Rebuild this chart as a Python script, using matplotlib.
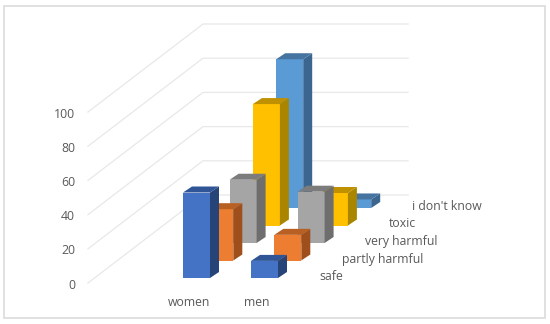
import matplotlib
matplotlib.use("Agg")
import matplotlib.pyplot as plt
from matplotlib.patches import Polygon, Rectangle

plt.rcParams['font.family'] = ['Open Sans', 'DejaVu Sans']

genders = ["women", "men"]
answers = ["safe", "partly harmful", "very harmful", "toxic", "i don't know"]
women = [50, 30, 37, 71, 87]
men = [10, 15, 30, 19, 5]
y_ticks = [0, 20, 40, 60, 80, 100]

front = ["#4472C4", "#ED7D31", "#A5A5A5", "#FFC000", "#5B9BD5"]
top = ["#2F5597", "#B85F24", "#7C7C7C", "#BF9000", "#44749F"]
side = ["#264478", "#9E4F1B", "#6E6E6E", "#A98500", "#3C6690"]
txt = "#595959"
grid = "#E8E8E8"

# pixels per unit, y axis in chart values, x in pixels
sy = 1.71
y0 = 283
row_dx = 23.3
row_dy = 17.5 / sy
bar_w = 27
side_dx = 9
side_dy = 6 / sy
inset = 5 / sy  # first row sits a little behind the floor edge
col_x = [183, 251]

fig = plt.figure(figsize=(5.5, 3.24), dpi=100)
ax = fig.add_axes([0, 0, 1, 1])
ax.set_xlim(0, 550)
ax.set_ylim(-(324 - y0) / sy, y0 / sy)
ax.axis("off")


def py(p):
    return (y0 - p) / sy


# outer frame
ax.add_patch(Rectangle((3.5, py(318)), 541.5, py(6) - py(318), fill=False, ec="#DCDCDC", lw=1.2, zorder=0))

# walls
for v in y_ticks:
    ax.plot([88, 203, 408], [v, v + 88 / sy, v + 88 / sy], color=grid, lw=0.9, zorder=0)
    ax.text(75, v - 1.2, str(v), ha="right", va="center", color=txt, fontsize=8.8)


def bar(x, base, val, i):
    h = base + val
    ax.add_patch(Polygon([(x, base), (x + bar_w, base), (x + bar_w, h), (x, h)], fc=front[i], ec="none"))
    ax.add_patch(Polygon([(x + bar_w, base), (x + bar_w + side_dx, base + side_dy),
                          (x + bar_w + side_dx, h + side_dy), (x + bar_w, h)], fc=side[i], ec="none"))
    ax.add_patch(Polygon([(x, h), (x + bar_w, h), (x + bar_w + side_dx, h + side_dy),
                          (x + side_dx, h + side_dy)], fc=top[i], ec="none"))


# back rows first so the front ones cover them
for i in range(len(answers) - 1, -1, -1):
    for c, vals in enumerate([women, men]):
        bar(col_x[c] + i * row_dx, inset + i * row_dy, vals[i], i)

for c, g in enumerate(genders):
    ax.text(col_x[c] + 6, py(303), g, ha="center", va="center", color=txt, fontsize=8.8)

for i, a in enumerate(answers):
    ax.text(319 + i * 23.2, py(277 - i * 17.7), a, ha="left", va="center", color=txt, fontsize=8.8)

fig.savefig("out.png", dpi=100)
